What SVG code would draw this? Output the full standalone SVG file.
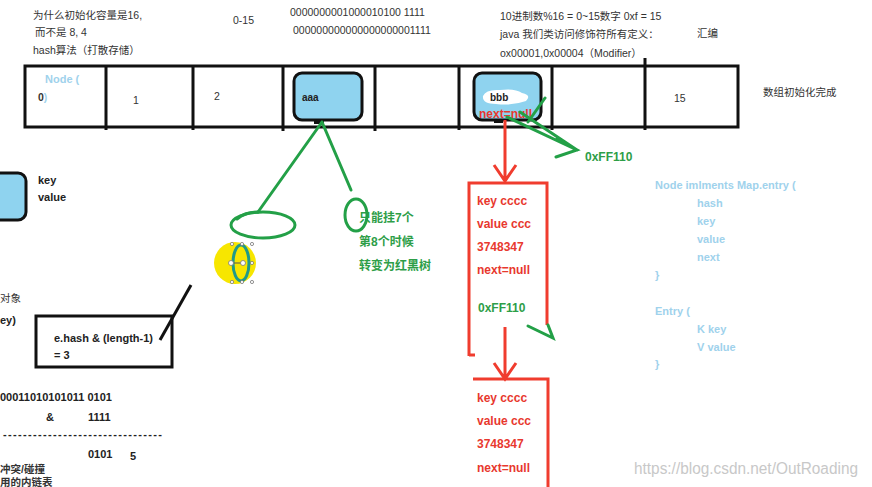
<svg xmlns="http://www.w3.org/2000/svg" width="872" height="487" viewBox="0 0 872 487">
<style>
text{font-family:"Liberation Sans","Noto Sans CJK SC",sans-serif}
.g{fill:#333;font-size:10.5px}
.k{fill:#222;font-size:11px;font-weight:bold}
.lb{fill:#9fd2ec;font-size:11px;font-weight:bold}
.gr{fill:#2e9e48;font-size:12px;font-weight:bold}
.rd{fill:#e8382e;font-size:12px;font-weight:bold}
.bl{stroke:#111;stroke-width:3;fill:none}
.gl{stroke:#23a047;stroke-width:3;fill:none;stroke-linecap:round}
.rl{stroke:#f03c2e;stroke-width:3;fill:none}
.node{fill:#8fd3ef;stroke:#111;stroke-width:3}
</style>
<rect width="872" height="487" fill="#fff"/>

<g id="notes-top">
<text class="g" x="33" y="19">为什么初始化容量是16,</text>
<text class="g" x="35" y="36">而不是 8, 4</text>
<text class="g" x="33" y="54">hash算法（打散存储）</text>
<text class="g" x="233" y="24" font-size="11">0-15</text>
<text class="g" x="290" y="16">0000000001000010100 1111</text>
<text class="g" x="293" y="34">000000000000000000001111</text>
<text class="g" x="500" y="20">10进制数%16 = 0~15数字 0xf = 15</text>
<text class="g" x="500" y="38">java 我们类访问修饰符所有定义：</text>
<text class="g" x="697" y="37">汇编</text>
<text class="g" x="500" y="57">ox00001,0x00004（Modifier）</text>
</g>

<g id="array">
<rect class="bl" x="25" y="66" width="713" height="61"/>
<path class="bl" d="M106 66V130M193 66V130M283 66V131M375 66V131M459 66V130M552 66V130M645 58V130"/>
<text x="45" y="83" class="lb" font-weight="normal">Node (</text>
<text x="38" y="101" class="g" font-size="11" font-weight="bold">0<tspan fill="#9fd2ec">)</tspan></text>
<text class="g" x="133" y="104" font-size="11">1</text>
<text class="g" x="214" y="100" font-size="11">2</text>
<text class="g" x="674" y="102" font-size="11">15</text>
<text class="g" x="763" y="96">数组初始化完成</text>
</g>

<g id="node-aaa">
<rect class="node" x="294" y="73" width="68" height="47" rx="8"/>
<rect x="314" y="119" width="10" height="5" fill="#111"/>
<text x="302" y="101" font-size="10" font-weight="bold" fill="#222">aaa</text>
</g>

<g id="node-bbb">
<rect class="node" x="474" y="73" width="67" height="47" rx="8"/>
<path d="M483 96Q486 89 500 90Q515 88 522 93Q532 95 526 101Q512 106 496 104Q482 104 483 96Z" fill="#fff"/>
<text x="490" y="101" font-size="10" font-weight="bold" fill="#222">bbb</text>
<text x="479" y="118" font-size="12" font-weight="bold" fill="#e8382e">next=null</text>
<rect x="494" y="119" width="9" height="4" fill="#111"/>
</g>

<g id="legend-node">
<rect class="node" x="-12" y="173" width="38" height="47" rx="8"/>
<text class="k" x="38" y="184">key</text>
<text class="k" x="38" y="201">value</text>
</g>

<g id="chain-1">
<path class="rl" d="M469 356V183H547V325M469 355H475"/>
<text class="rd" x="477" y="205">key cccc</text>
<text class="rd" x="477" y="228">value ccc</text>
<text class="rd" x="477" y="251">3748347</text>
<text class="rd" x="477" y="274">next=null</text>
<text class="gr" x="478" y="312">0xFF110</text>
</g>

<g id="chain-2">
<path class="rl" d="M473 379H548V487"/>
<text class="rd" x="477" y="402">key cccc</text>
<text class="rd" x="477" y="425">value ccc</text>
<text class="rd" x="477" y="448">3748347</text>
<text class="rd" x="477" y="472">next=null</text>
</g>

<g id="label-ff110">
<text class="gr" x="585" y="161">0xFF110</text>
</g>

<g id="tree-note">
<text class="gr" x="359" y="222">只能挂7个</text>
<text class="gr" x="359" y="246">第8个时候</text>
<text class="gr" x="359" y="270">转变为红黑树</text>
</g>

<g id="hash-box">
<rect class="bl" x="36" y="316" width="136" height="51"/>
<text class="k" x="54" y="342">e.hash &amp; (length-1)</text>
<text class="k" x="54" y="359">= 3</text>
<path class="bl" d="M160 340L191 285"/>
</g>

<g id="left-notes">
<text class="g" x="0" y="302">对象</text>
<text class="k" x="0" y="324">ey)</text>
<text class="k" x="0" y="401">00011010101011 0101</text>
<text class="k" x="46" y="421">&amp;</text>
<text class="k" x="88" y="421">1111</text>
<text class="k" x="3" y="438" font-weight="normal" textLength="159" lengthAdjust="spacing">--------------------------------</text>
<text class="k" x="88" y="458">0101</text>
<text class="k" x="130" y="460">5</text>
<text class="g" x="0" y="473" font-weight="bold">冲突/碰撞</text>
<text class="g" x="0" y="486" font-weight="bold">用的内链表</text>
</g>

<g id="node-def">
<text class="lb" x="655" y="189">Node imlments Map.entry (</text>
<text class="lb" x="697" y="207">hash</text>
<text class="lb" x="697" y="225">key</text>
<text class="lb" x="697" y="243">value</text>
<text class="lb" x="697" y="261">next</text>
<text class="lb" x="655" y="279">}</text>
<text class="lb" x="655" y="315">Entry (</text>
<text class="lb" x="697" y="333">K key</text>
<text class="lb" x="697" y="351">V value</text>
<text class="lb" x="655" y="368">}</text>
</g>

<g id="cursor-mark">
<circle cx="235" cy="263" r="21" fill="#f7e600"/>
<ellipse cx="241" cy="263" rx="8" ry="18" fill="none" stroke="#1f9a8a" stroke-width="3"/>
<path d="M231 263H243" stroke="#555" stroke-width="1"/>
<g fill="#fff" stroke="#777" stroke-width="0.8">
<circle cx="231" cy="263" r="2.5"/><circle cx="243" cy="263" r="2.5"/>
<circle cx="232" cy="244" r="1.6"/><circle cx="242" cy="244" r="1.6"/><circle cx="252" cy="244" r="1.6"/>
<circle cx="232" cy="282" r="1.6"/><circle cx="242" cy="282" r="1.6"/><circle cx="252" cy="282" r="1.6"/>
<circle cx="252" cy="263" r="1.6"/>
</g>
</g>

<g id="connectors">
<path class="gl" d="M322 122L258 212M322 122L351 190"/>
<ellipse class="gl" cx="263" cy="225" rx="32" ry="13"/>
<path class="gl" d="M237 219Q245 212 258 212"/>
<ellipse class="gl" cx="356" cy="215" rx="11" ry="16"/>
<path class="gl" d="M507 117L577 150M520 112L577 150M557 139L577 150L556 157M545 98L528 122"/>
<path class="rl" d="M505 120V181M494 165L505 181L516 165"/>
<path class="rl" d="M505 327V379M494 363L505 379L516 363"/>
<path class="gl" d="M528 326L553 338L548 325"/>
</g>

<g id="watermark">
<text x="634" y="474" font-size="16" fill="#c8c8c8" textLength="224" lengthAdjust="spacingAndGlyphs">https://blog.csdn.net/OutRoading</text>
</g>
</svg>
